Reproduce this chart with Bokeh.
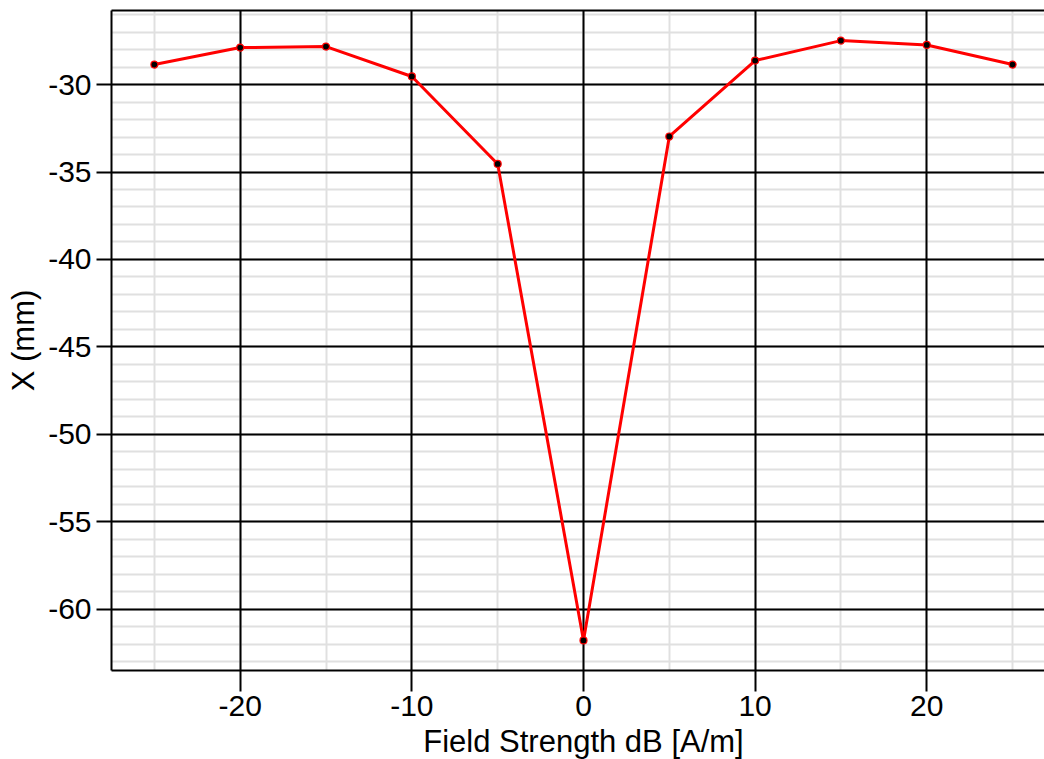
from bokeh.plotting import figure
from bokeh.models import (LinearAxis, Range1d, SingleIntervalTicker, FixedTicker,
                          Grid, PrintfTickFormatter)
from bokeh.embed import file_html
from bokeh.resources import INLINE

field_strength = [-25, -20, -15, -10, -5, 0, 5, 10, 15, 20, 25]
x_mm = [-28.86, -27.89, -27.83, -29.54, -34.54, -61.77, -32.97, -28.63, -27.49, -27.74, -28.86]

FONT = "Liberation Sans"

p = figure(width=1055, height=762, output_backend="svg", toolbar_location=None,
           x_range=Range1d(-27.5, 27.5), y_range=Range1d(-63.49, -25.77),
           min_border_left=111, min_border_top=10, min_border_bottom=92, min_border_right=0,
           x_axis_label="Field Strength dB [A/m]", y_axis_label="X (mm)")
p.outline_line_color = None
p.background_fill_color = "white"
p.border_fill_color = "white"

xt = SingleIntervalTicker(interval=10, num_minor_ticks=2)
yt = SingleIntervalTicker(interval=5, num_minor_ticks=5)
p.xaxis.ticker = xt
p.yaxis.ticker = yt
p.xaxis.formatter = PrintfTickFormatter(format="%d")
p.yaxis.formatter = PrintfTickFormatter(format="%d")

for ax in (p.xaxis[0], p.yaxis[0]):
    ax.axis_line_color = "black"
    ax.axis_line_width = 2
    ax.major_tick_line_color = "black"
    ax.major_tick_line_width = 2
    ax.major_tick_in = 0
    ax.minor_tick_in = 0
    ax.minor_tick_out = 0
    ax.major_label_text_font = FONT
    ax.major_label_text_font_size = "30px"
    ax.major_label_text_color = "black"
    ax.axis_label_text_font = FONT
    ax.axis_label_text_font_size = "31px"
    ax.axis_label_text_font_style = "normal"
    ax.axis_label_text_color = "black"

p.yaxis.major_tick_out = 15
p.yaxis.major_label_standoff = 5
p.yaxis.axis_label_standoff = 4
p.xaxis.major_tick_out = 21
p.xaxis.major_label_standoff = 4
p.xaxis.axis_label_standoff = 5

top = LinearAxis(ticker=FixedTicker(ticks=[]), axis_line_color="black", axis_line_width=2,
                 major_tick_out=0, major_tick_in=0, minor_tick_out=0, minor_tick_in=0,
                 major_label_standoff=0)
p.add_layout(top, "above")

for g in list(p.xgrid) + list(p.ygrid):
    g.visible = False

minor_x = Grid(dimension=0, ticker=xt, grid_line_color=None,
               minor_grid_line_color="#e0e0e0", minor_grid_line_width=2)
minor_y = Grid(dimension=1, ticker=yt, grid_line_color=None,
               minor_grid_line_color="#e0e0e0", minor_grid_line_width=2)
major_x = Grid(dimension=0, ticker=xt, grid_line_color="black", grid_line_width=2)
major_y = Grid(dimension=1, ticker=yt, grid_line_color="black", grid_line_width=2)
for g in (minor_x, minor_y, major_x, major_y):
    p.add_layout(g, "center")

p.line(field_strength, x_mm, line_color="red", line_width=3)
p.scatter(field_strength, x_mm, size=7, fill_color="black", line_color="red", line_width=1.2)

open("out.html", "w").write(file_html(p, INLINE))
